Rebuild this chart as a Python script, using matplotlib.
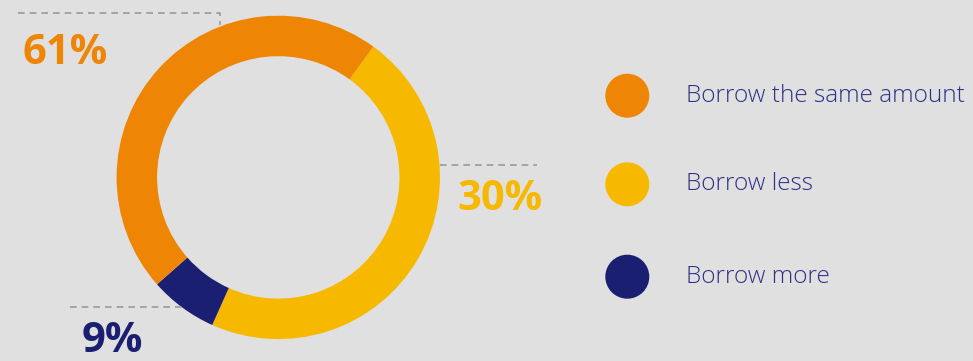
import matplotlib
matplotlib.use("Agg")
import matplotlib.pyplot as plt
from matplotlib.patches import Circle

# Data
categories = ["Borrow the same amount", "Borrow less", "Borrow more"]
label_texts = ["61%", "30%", "9%"]
# arc shares as drawn in the reference ring
arc_shares = [46.5, 46.7, 6.8]
colors = ["#EF8504", "#F7B800", "#1B1F72"]

BG = "#E0E0E0"
W, H = 973, 361
fig = plt.figure(figsize=(W / 100, H / 100), dpi=100, facecolor=BG)
ax = fig.add_axes([0, 0, 1, 1])
ax.set_facecolor(BG)

cx, cy, R, ring = 278.3, H - 177.4, 161.7, 40.5

# pie drawn clockwise starting with the yellow slice at 36 deg right of top
order = [1, 2, 0]
ax.pie([arc_shares[i] for i in order], colors=[colors[i] for i in order],
       startangle=90 - 36, counterclock=False, radius=R, center=(cx, cy),
       wedgeprops=dict(width=ring, linewidth=0))

ax.set_xlim(0, W)
ax.set_ylim(0, H)
ax.set_aspect("equal")
ax.axis("off")

dash = dict(color="#9a9a9a", lw=1.2, ls=(0, (4, 3)))
# leader lines
ax.plot([18, 220, 220], [H - 13, H - 13, H - 25], **dash)
ax.plot([440, 537], [H - 164.7, H - 164.7], **dash)
ax.plot([70, 182], [H - 306.7, H - 306.7], **dash)

fnt = "Open Sans"
ax.text(23, H - 53, label_texts[0], color=colors[0], fontsize=30, fontweight="bold",
        family=fnt, ha="left", va="center")
ax.text(457, H - 199, label_texts[1], color=colors[1], fontsize=30, fontweight="bold",
        family=fnt, ha="left", va="center")
ax.text(82, H - 352, label_texts[2], color=colors[2], fontsize=30, fontweight="bold",
        family=fnt, ha="left", va="baseline")

# legend
leg_y = [95.7, 184.3, 276.7]
for name, col, y in zip(categories, colors, leg_y):
    ax.add_patch(Circle((627.3, H - y), 22, color=col, lw=0))
    ax.text(686, H - y, name, color="#2E3286", fontsize=17.6, fontweight="light",
            family=fnt, ha="left", va="center")

fig.savefig("out.png", dpi=100, facecolor=BG)
